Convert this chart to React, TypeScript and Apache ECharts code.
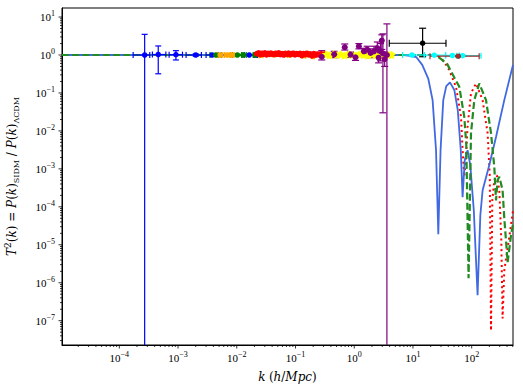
import { useEffect, useRef } from 'react';
import * as echarts from 'echarts';

// ---------- axis ranges ----------
const X_MIN = 1.057e-5;
const X_MAX = 505;
const Y_MIN = 2.29e-8;
const Y_MAX = 17.3;

// ---------- theory curves: [k, T^2] ----------
const curveBlue: number[][] = [
  [1.057e-5, 1], [7.0, 1], [8.91, 0.955], [11.38, 0.885], [14.39, 0.55], [18.2, 0.24],
  [21.6, 0.0646], [24.7, 3.1e-3], [27.0, 1.9e-5], [29.5, 3.1e-3], [32.8, 0.0646],
  [36.9, 0.151], [42.7, 0.19], [50.6, 0.12], [57.9, 0.0355], [65.2, 3.1e-3],
  [70.0, 1.8e-4], [76.2, 1.7e-3], [85.1, 3.1e-3], [94.6, 1.26e-3], [108.6, 8.1e-5],
  [125.9, 4.7e-7], [140.3, 6.0e-5], [153.5, 2.75e-4], [199.5, 1.26e-3],
  [259.4, 6.9e-3], [358.9, 0.0646], [505, 0.55],
];
const curveRed: number[][] = [
  [1.057e-5, 1], [21.4, 1], [28.05, 0.89], [34.1, 0.66], [41.5, 0.40], [54.0, 0.145],
  [65.8, 0.0234], [70.0, 3.1e-3], [74.8, 6.3e-4], [79.3, 1.7e-3], [85.1, 0.0129],
  [97.3, 0.098], [118.3, 0.178], [153.5, 0.0646], [186.6, 8.7e-3], [203.2, 6.5e-4],
  [213.3, 5.5e-8], [224.4, 1.48e-4], [242.7, 5.0e-4], [267.9, 6.8e-4], [295.1, 2.75e-4],
  [319.2, 1.32e-5], [335.7, 1.15e-7], [358.9, 2.1e-6], [436.5, 1.6e-5], [505, 7.9e-5],
];
const curveGreen: number[][] = [
  [1.057e-5, 1], [24.0, 1], [31.6, 0.74], [38.4, 0.575], [46.8, 0.32], [61.5, 0.145],
  [74.8, 0.0234], [80.9, 4.3e-3], [88.5, 1.32e-6], [97.3, 8.7e-3], [110.7, 0.0646],
  [134.6, 0.178], [175.4, 0.0646], [213.3, 8.7e-3], [242.7, 1.12e-3], [259.4, 1.48e-4],
  [276.1, 5.0e-4], [295.1, 6.2e-4], [335.7, 2.75e-4], [358.9, 5.0e-5], [409.3, 3.5e-6],
  [467.7, 1.78e-5], [505, 3.5e-5],
];

// ---------- measurements: [k, T^2, T^2_low, T^2_high, k_low, k_high] ----------
const dataBlue: number[][] = [
  [2.7e-4, 1.0, 1e-12, 3.5, 1.72e-4, 3.3e-4],
  [4.6e-4, 1.03, 0.32, 1.73, 3.66e-4, 6.2e-4],
  [9.2e-4, 1.02, 0.74, 1.3, 7.05e-4, 1.19e-3],
  [2.0e-3, 1.0, 0.93, 1.07, 1.37e-3, 2.5e-3],
  [3.8e-3, 1.0, 0.96, 1.05, 3.0e-3, 4.8e-3],
  [0.0163, 1.0, 0.97, 1.03, 0.0134, 0.0198],
  [0.0211, 1.0, 0.97, 1.03, 0.0198, 0.0226],
];
const dataGreen: number[][] = [
  [4.4e-3, 1.0, 0.92, 1.08, 3.5e-3, 5.4e-3],
  [0.0102, 1.0, 0.95, 1.05, 8.4e-3, 0.0122],
  [0.0130, 1.0, 0.95, 1.05, 0.0122, 0.0145],
  [0.0206, 1.0, 0.96, 1.04, 0.019, 0.022],
];
const dataOrange: number[][] = [
  [5.2e-3, 1.0, 0.9, 1.1, 4.7e-3, 5.8e-3],
  [6.9e-3, 1.0, 0.93, 1.07, 6.2e-3, 7.6e-3],
  [8.4e-3, 1.0, 0.94, 1.06, 7.8e-3, 9.0e-3],
  [0.026, 0.98, 0.94, 1.02, 0.024, 0.028],
  [0.043, 1.03, 0.99, 1.07, 0.040, 0.046],
  [0.078, 1.0, 0.96, 1.04, 0.073, 0.083],
  [0.14, 0.96, 0.91, 1.01, 0.13, 0.15],
  [0.20, 0.92, 0.86, 0.98, 0.19, 0.21],
];
const dataRed: number[][] = [
  [0.022, 1.08, 1.03, 1.13, 0.022, 0.022], [0.0235, 1.12, 1.07, 1.17, 0.0235, 0.0235],
  [0.025, 1.04, 0.99, 1.09, 0.025, 0.025], [0.0265, 1.10, 1.05, 1.15, 0.0265, 0.0265],
  [0.028, 1.06, 1.01, 1.11, 0.028, 0.028], [0.030, 1.13, 1.08, 1.18, 0.030, 0.030],
  [0.032, 1.02, 0.97, 1.07, 0.032, 0.032], [0.034, 1.09, 1.04, 1.14, 0.034, 0.034],
  [0.036, 1.05, 1.0, 1.1, 0.036, 0.036], [0.038, 1.11, 1.06, 1.16, 0.038, 0.038],
  [0.040, 1.07, 1.02, 1.12, 0.040, 0.040], [0.043, 1.03, 0.98, 1.08, 0.043, 0.043],
  [0.046, 1.10, 1.05, 1.15, 0.046, 0.046], [0.049, 1.06, 1.01, 1.11, 0.049, 0.049],
  [0.052, 1.12, 1.07, 1.17, 0.052, 0.052], [0.055, 1.04, 0.99, 1.09, 0.055, 0.055],
  [0.059, 1.08, 1.03, 1.13, 0.059, 0.059], [0.063, 1.01, 0.96, 1.06, 0.063, 0.063],
  [0.067, 1.09, 1.04, 1.14, 0.067, 0.067], [0.071, 1.05, 1.0, 1.1, 0.071, 0.071],
  [0.076, 1.11, 1.06, 1.16, 0.076, 0.076], [0.081, 1.03, 0.98, 1.08, 0.081, 0.081],
  [0.086, 1.07, 1.02, 1.12, 0.086, 0.086], [0.092, 1.10, 1.05, 1.15, 0.092, 0.092],
  [0.098, 1.02, 0.97, 1.07, 0.098, 0.098], [0.105, 1.08, 1.03, 1.13, 0.105, 0.105],
  [0.112, 1.05, 1.0, 1.1, 0.112, 0.112], [0.12, 1.09, 1.04, 1.14, 0.12, 0.12],
  [0.128, 0.97, 0.92, 1.02, 0.128, 0.128], [0.137, 1.07, 1.02, 1.12, 0.137, 0.137],
  [0.146, 1.04, 0.99, 1.09, 0.146, 0.146], [0.156, 1.10, 1.05, 1.15, 0.156, 0.156],
  [0.167, 1.02, 0.97, 1.07, 0.167, 0.167], [0.178, 1.06, 1.01, 1.11, 0.178, 0.178],
  [0.19, 0.96, 0.91, 1.01, 0.19, 0.19], [0.205, 1.08, 1.03, 1.13, 0.205, 0.205],
  [0.22, 1.00, 0.95, 1.05, 0.22, 0.22], [0.235, 1.05, 1.0, 1.1, 0.235, 0.235],
  [0.25, 1.02, 0.97, 1.07, 0.25, 0.25], [0.27, 1.06, 1.01, 1.11, 0.27, 0.27],
  [0.29, 1.01, 0.96, 1.06, 0.29, 0.29], [0.31, 1.04, 0.99, 1.09, 0.31, 0.31],
];
const dataYellow: number[][] = [
  [0.33, 1.04, 0.98, 1.1, 0.315, 0.345], [0.38, 0.98, 0.92, 1.04, 0.36, 0.40],
  [0.44, 1.06, 1.0, 1.12, 0.42, 0.46], [0.51, 1.0, 0.94, 1.06, 0.49, 0.53],
  [0.59, 1.03, 0.97, 1.09, 0.565, 0.615], [0.68, 0.97, 0.91, 1.03, 0.65, 0.71],
  [0.79, 1.05, 0.99, 1.11, 0.755, 0.825], [0.92, 1.0, 0.94, 1.06, 0.88, 0.96],
  [1.07, 0.98, 0.92, 1.04, 1.02, 1.12], [1.25, 1.04, 0.97, 1.11, 1.19, 1.31],
  [1.45, 1.0, 0.93, 1.07, 1.38, 1.52], [1.7, 0.97, 0.9, 1.04, 1.62, 1.78],
  [2.0, 1.03, 0.96, 1.1, 1.9, 2.1], [2.35, 0.99, 0.92, 1.06, 2.24, 2.46],
  [2.75, 1.02, 0.94, 1.1, 2.62, 2.88], [3.2, 0.98, 0.9, 1.06, 3.05, 3.35],
  [3.8, 1.0, 0.92, 1.08, 3.62, 3.98], [4.3, 1.01, 0.92, 1.1, 4.1, 4.5],
];
const dataPurple: number[][] = [
  [0.28, 0.9, 0.74, 1.3, 0.28, 0.28],
  [0.456, 1.04, 0.85, 1.25, 0.456, 0.456],
  [0.69, 1.6, 1.35, 1.95, 0.69, 0.69],
  [0.865, 1.02, 0.87, 1.2, 0.865, 0.865],
  [1.05, 0.87, 0.72, 1.02, 1.05, 1.05],
  [1.2, 1.7, 1.45, 2.0, 1.2, 1.2],
  [1.46, 1.25, 1.0, 1.5, 1.46, 1.46],
  [1.66, 1.38, 1.1, 1.7, 1.66, 1.66],
  [1.9, 1.13, 0.85, 1.45, 1.9, 1.9],
  [2.17, 1.25, 0.9, 1.7, 2.17, 2.17],
  [2.47, 1.53, 1.0, 2.2, 2.47, 2.47],
  [2.6, 0.85, 0.62, 1.1, 2.6, 2.6],
  [2.8, 1.25, 0.7, 2.0, 2.8, 2.8],
  [2.95, 2.4, 1.4, 3.4, 2.95, 2.95],
  [3.08, 1.1, 0.03, 3.6, 3.08, 3.08],
  [3.3, 0.78, 0.5, 1.2, 3.3, 3.3],
  [3.6, 1.0, 1e-12, 6.6, 3.6, 3.6],
];
const dataBlack: number[][] = [
  [14.6, 2.04, 0.9, 5.07, 3.95, 36.5],
];
const dataCyan: number[][] = [
  [9.6, 1.0, 0.97, 1.03, 6.65, 15.6],
  [23, 0.99, 0.96, 1.02, 15.6, 36],
  [47, 0.97, 0.94, 1.0, 36, 62],
  [70, 0.96, 0.92, 1.0, 55, 144],
];
const dataBrown: number[][] = [
  [59, 0.93, 0.9, 0.96, 19.5, 134],
];

// ---------- tick values ----------
const xMajorTicks = [1e-4, 1e-3, 1e-2, 1e-1, 1, 10, 100];
const yMajorTicks = [1e-7, 1e-6, 1e-5, 1e-4, 1e-3, 1e-2, 1e-1, 1, 10];

function minorTicks(lo: number, hi: number): number[] {
  const out: number[] = [];
  for (let e = Math.floor(Math.log10(lo)); e <= Math.ceil(Math.log10(hi)); e++) {
    for (let m = 2; m <= 9; m++) {
      const v = m * Math.pow(10, e);
      if (v > lo && v < hi) out.push(v);
    }
  }
  return out;
}

const FONT = '"Liberation Serif", "DejaVu Serif", serif';
const NAME_FONT = '"DejaVu Serif", "Liberation Serif", serif';
const STAR = 'path://M0,-10 L2.94,-4.05 9.51,-3.09 4.76,1.55 5.88,8.09 0,5 -5.88,8.09 -4.76,1.55 -9.51,-3.09 -2.94,-4.05 Z';

function logLabel(v: number): string {
  const e = Math.log10(v);
  const r = Math.round(e);
  if (Math.abs(e - r) > 1e-6) return '';
  const exp = r < 0 ? '\u2212' + -r : String(r);
  return `{b|10}{s|${exp}}`;
}

const labelRich = {
  b: { fontSize: 11, lineHeight: 15, fontFamily: FONT, color: '#000' },
  s: { fontSize: 8, lineHeight: 9, verticalAlign: 'top', fontFamily: FONT, color: '#000' },
};

function errSeries(rows: number[][], color: string, lw: number, cap: number) {
  return {
    type: 'custom',
    clip: true,
    z: 3,
    silent: true,
    encode: { x: 0, y: 1 },
    data: rows,
    renderItem: (_p: any, api: any) => {
      const k = api.value(0), t = api.value(1);
      const lo = api.value(2), hi = api.value(3);
      const kl = api.value(4), kh = api.value(5);
      const c = api.coord([k, t]);
      const style = { stroke: color, lineWidth: lw, fill: 'none' };
      const ln = (x1: number, y1: number, x2: number, y2: number) => ({
        type: 'line', shape: { x1, y1, x2, y2 }, style,
      });
      const ch: any[] = [];
      if (hi > lo) {
        const yt = api.coord([k, hi])[1];
        const yb = api.coord([k, lo])[1];
        ch.push(ln(c[0], yt, c[0], yb), ln(c[0] - cap, yt, c[0] + cap, yt), ln(c[0] - cap, yb, c[0] + cap, yb));
      }
      if (kh > kl) {
        const xl = api.coord([kl, t])[0];
        const xr = api.coord([kh, t])[0];
        ch.push(ln(xl, c[1], xr, c[1]), ln(xl, c[1] - cap, xl, c[1] + cap), ln(xr, c[1] - cap, xr, c[1] + cap));
      }
      return { type: 'group', children: ch };
    },
  };
}

function pointSeries(rows: number[][], color: string, size: number, symbol = 'circle') {
  return {
    type: 'scatter',
    z: 4,
    silent: true,
    symbol,
    symbolKeepAspect: true,
    symbolSize: size,
    itemStyle: { color, opacity: 1 },
    data: rows.map((r) => [r[0], r[1]]),
  };
}

function curveSeries(rows: number[][], color: string, width: number, type: any, z: number) {
  return {
    type: 'line',
    z,
    silent: true,
    showSymbol: false,
    symbol: 'none',
    data: rows,
    lineStyle: { color, width, type, cap: 'butt' },
  };
}

function tickSeries(values: number[], axis: 'x' | 'y', len: number) {
  return {
    type: 'custom',
    clip: false,
    z: 5,
    silent: true,
    encode: { x: 0, y: 1 },
    data: values.map((v) => (axis === 'x' ? [v, Y_MIN] : [X_MIN, v])),
    renderItem: (_p: any, api: any) => {
      const c = api.coord([api.value(0), api.value(1)]);
      const shape = axis === 'x'
        ? { x1: c[0], y1: c[1], x2: c[0], y2: c[1] + len }
        : { x1: c[0], y1: c[1], x2: c[0] - len, y2: c[1] };
      return { type: 'line', shape, style: { stroke: '#000', lineWidth: 0.8 } };
    },
  };
}

export default function App() {
  const ref = useRef<HTMLDivElement>(null);
  useEffect(() => {
    if (!ref.current) return;
    const chart = echarts.init(ref.current, undefined, { renderer: 'svg' });
    const yName =
      '{i|T}{sup|2}{r|(}{i|k}{r|) = }{i|P}{r|(}{i|k}{r|)}{sub|SIDM}{r| / }{i|P}{r|(}{i|k}{r|)}{sub|\u039BCDM}';
    chart.setOption({
      animation: false,
      backgroundColor: '#fff',
      grid: {
        left: 62, right: 10, top: 8, bottom: 47,
        outerBoundsMode: 'none',
        containLabel: false,
        show: true, borderColor: '#000', borderWidth: 1, backgroundColor: 'transparent',
      },
      xAxis: {
        type: 'log',
        logBase: 10,
        min: X_MIN,
        max: X_MAX,
        name: '{i|k} {r|(}{i|h}{r|/}{i|Mpc}{r|)}',
        nameLocation: 'middle',
        nameGap: 26,
        nameTextStyle: {
          rich: {
            i: { fontSize: 12, fontStyle: 'italic', fontFamily: NAME_FONT, color: '#000' },
            r: { fontSize: 12, fontFamily: NAME_FONT, color: '#000' },
          },
        },
        axisLine: { show: true, lineStyle: { color: '#000', width: 1 } },
        axisTick: { show: false },
        splitLine: { show: false },
        minorTick: { show: false },
        axisLabel: { formatter: logLabel, rich: labelRich, margin: 5, showMinLabel: true, showMaxLabel: true },
      },
      yAxis: {
        type: 'log',
        logBase: 10,
        min: Y_MIN,
        max: Y_MAX,
        name: yName,
        nameLocation: 'middle',
        nameRotate: 90,
        nameGap: 42,
        nameTextStyle: {
          rich: {
            i: { fontSize: 12, fontStyle: 'italic', fontFamily: NAME_FONT, color: '#000', lineHeight: 17 },
            r: { fontSize: 12, fontFamily: NAME_FONT, color: '#000', lineHeight: 17 },
            sup: { fontSize: 9, fontFamily: NAME_FONT, color: '#000', verticalAlign: 'top', lineHeight: 11 },
            sub: { fontSize: 8, fontFamily: NAME_FONT, color: '#000', verticalAlign: 'bottom', lineHeight: 10 },
          },
        },
        axisLine: { show: true, lineStyle: { color: '#000', width: 1 } },
        axisTick: { show: false },
        splitLine: { show: false },
        minorTick: { show: false },
        axisLabel: { formatter: logLabel, rich: labelRich, margin: 7 },
      },
      series: [
        curveSeries(curveRed, '#ff0000', 2, [2, 3.3], 2),
        curveSeries(curveBlue, '#4169e1', 1.8, 'solid', 2),
        curveSeries(curveGreen, '#228b22', 2.2, [7, 3.2], 2),
        errSeries(dataBlue, '#0000ff', 1.2, 3), pointSeries(dataBlue, '#0000ff', 5.5),
        errSeries(dataGreen, '#008000', 1.2, 3), pointSeries(dataGreen, '#008000', 5.5),
        errSeries(dataOrange, '#ffa500', 1.2, 3), pointSeries(dataOrange, '#ffa500', 5.5),
        errSeries(dataRed, '#ff0000', 1.2, 3), pointSeries(dataRed, '#ff0000', 6),
        errSeries(dataYellow, '#ffff00', 1.2, 3), pointSeries(dataYellow, '#ffff00', 9, STAR),
        errSeries(dataPurple, '#800080', 1.2, 3.5), pointSeries(dataPurple, '#800080', 6),
        errSeries(dataBlack, '#000000', 1.2, 3.5), pointSeries(dataBlack, '#000000', 5.5),
        errSeries(dataCyan, '#00ffff', 1.2, 3), pointSeries(dataCyan, '#00ffff', 5.5),
        errSeries(dataBrown, '#a52a2a', 1.2, 3), pointSeries(dataBrown, '#a52a2a', 5.5),
        tickSeries(xMajorTicks, 'x', 3.5),
        tickSeries(minorTicks(X_MIN, X_MAX), 'x', 2),
        tickSeries(yMajorTicks, 'y', 3.5),
        tickSeries(minorTicks(Y_MIN, Y_MAX), 'y', 2),
      ],
    });
    return () => chart.dispose();
  }, []);
  return (
    <div
      ref={ref}
      style={{ position: 'fixed', left: 0, top: 0, width: 523, height: 392, background: '#fff' }}
    />
  );
}
